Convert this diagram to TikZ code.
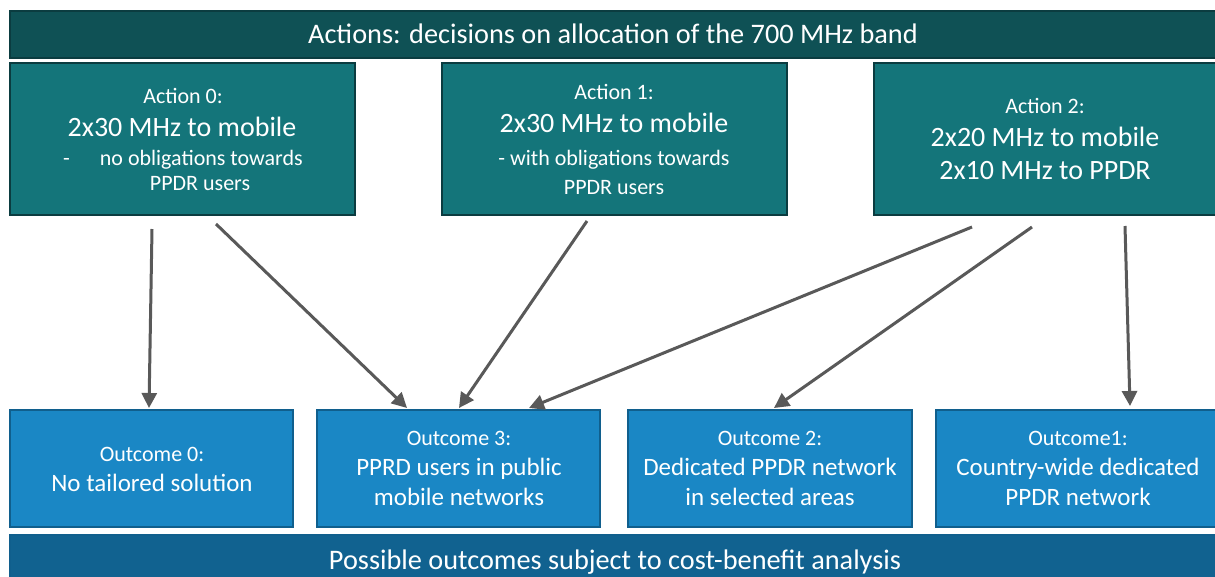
\documentclass[tikz,border=0pt]{standalone}
\usepackage{fontspec}
\setmainfont{Carlito}
\usetikzlibrary{arrows.meta,calc}
\definecolor{barteal}{HTML}{0F5155}
\definecolor{actfill}{HTML}{14757A}
\definecolor{actline}{HTML}{0B3C40}
\definecolor{outfill}{HTML}{1A87C5}
\definecolor{outline}{HTML}{105F8D}
\definecolor{barblue}{HTML}{116290}
\definecolor{arrgray}{HTML}{595959}
\tikzset{
  box/.style={rectangle, inner sep=0pt, line width=2pt},
  actbox/.style={box, fill=actfill, draw=actline},
  outbox/.style={box, fill=outfill, draw=outline},
  txt/.style={text=white, inner sep=0pt, anchor=base},
  small/.style={txt, font=\fontsize{22}{26}\selectfont},
  big/.style={txt, font=\fontsize{28}{32}\selectfont},
  mid/.style={txt, font=\fontsize{25}{29}\selectfont},
  conn/.style={draw=arrgray, line width=3pt, -{Triangle[length=15pt,width=15pt]}},
}
\begin{document}
\begin{tikzpicture}[x=1pt,y=-1pt]
\clip (0,0) rectangle (1215,576);
\fill[white] (0,0) rectangle (1215,576);
% top bar
\path[box, fill=barteal, draw=actline] (10,11) rectangle (1225,58);
\node[txt, font=\fontsize{28.3}{32}\selectfont] (title) at (613,43) {Actions: decisions on allocation of the 700 MHz band};
% action boxes
\node[actbox, minimum width=345pt, minimum height=152pt] (a0) at (182.5,139) {};
\node[actbox, minimum width=345pt, minimum height=152pt] (a1) at (614.5,139) {};
\node[actbox, minimum width=350pt, minimum height=152pt, anchor=west] (a2) at (873,139) {};
\node[small] (a0l1) at (183,103) {Action 0:};
\node[big] (a0l2) at (182,136) {2x30 MHz to mobile};
\node[small] (a0l3) at (183,165) {-\hspace{30pt}no obligations towards};
\node[small] (a0l4) at (200,190) {PPDR users};
\node[small] (a1l1) at (614,99) {Action 1:};
\node[big] (a1l2) at (614,132) {2x30 MHz to mobile};
\node[small] (a1l3) at (614,165) {- with obligations towards};
\node[small] (a1l4) at (614,194) {PPDR users};
\node[small] (a2l1) at (1045,113) {Action 2:};
\node[big] (a2l2) at (1045,146) {2x20 MHz to mobile};
\node[big] (a2l3) at (1045,179) {2x10 MHz to PPDR};
% outcome boxes
\node[outbox, minimum width=283pt, minimum height=117pt] (o0) at (151.5,468.5) {};
\node[outbox, minimum width=283pt, minimum height=117pt] (o3) at (458.5,468.5) {};
\node[outbox, minimum width=284pt, minimum height=117pt] (o2) at (770,468.5) {};
\node[outbox, minimum width=290pt, minimum height=117pt, anchor=west] (o1) at (935,468.5) {};
\node[small] (o0l1) at (152,461) {Outcome 0:};
\node[mid] (o0l2) at (152,491) {No tailored solution};
\node[small] (o3l1) at (459,445) {Outcome 3:};
\node[mid] (o3l2) at (459,475) {PPRD users in public};
\node[mid] (o3l3) at (459,505) {mobile networks};
\node[small] (o2l1) at (770,445) {Outcome 2:};
\node[mid] (o2l2) at (770,475) {Dedicated PPDR network};
\node[mid] (o2l3) at (770,505) {in selected areas};
\node[small] (o1l1) at (1078,445) {Outcome1:};
\node[mid] (o1l2) at (1078,475) {Country-wide dedicated};
\node[mid] (o1l3) at (1078,505) {PPDR network};
% bottom bar
\path[box, fill=barblue, draw=outline] (10,535) rectangle (1225,585);
\node[txt, font=\fontsize{28.3}{32}\selectfont] (foot) at (615,569) {Possible outcomes subject to cost-benefit analysis};
% connector endpoints
\coordinate (s0) at ($(a0.south west)+(143,13)$);
\coordinate (s1) at ($(a0.south west)+(207,8)$);
\coordinate (s2) at ($(a1.south west)+(146,5)$);
\coordinate (s3) at ($(a2.south west)+(99,11)$);
\coordinate (s4) at ($(a2.south west)+(159,11)$);
\coordinate (s5) at ($(a2.south west)+(252,10)$);
\coordinate (e0) at ($(o0.north west)+(140,-1)$);
\coordinate (e1) at ($(o3.north west)+(91,-1)$);
\coordinate (e2) at ($(o3.north west)+(143,-1)$);
\coordinate (e3) at ($(o3.north west)+(213,-1)$);
\coordinate (e4) at ($(o2.north west)+(147,-1)$);
\coordinate (e5) at ($(o1.north west)+(195,-3)$);
\draw[conn] (s0) -- (e0);
\draw[conn] (s1) -- (e1);
\draw[conn] (s2) -- (e2);
\draw[conn] (s3) -- (e3);
\draw[conn] (s4) -- (e4);
\draw[conn] (s5) -- (e5);
\end{tikzpicture}
\end{document}
